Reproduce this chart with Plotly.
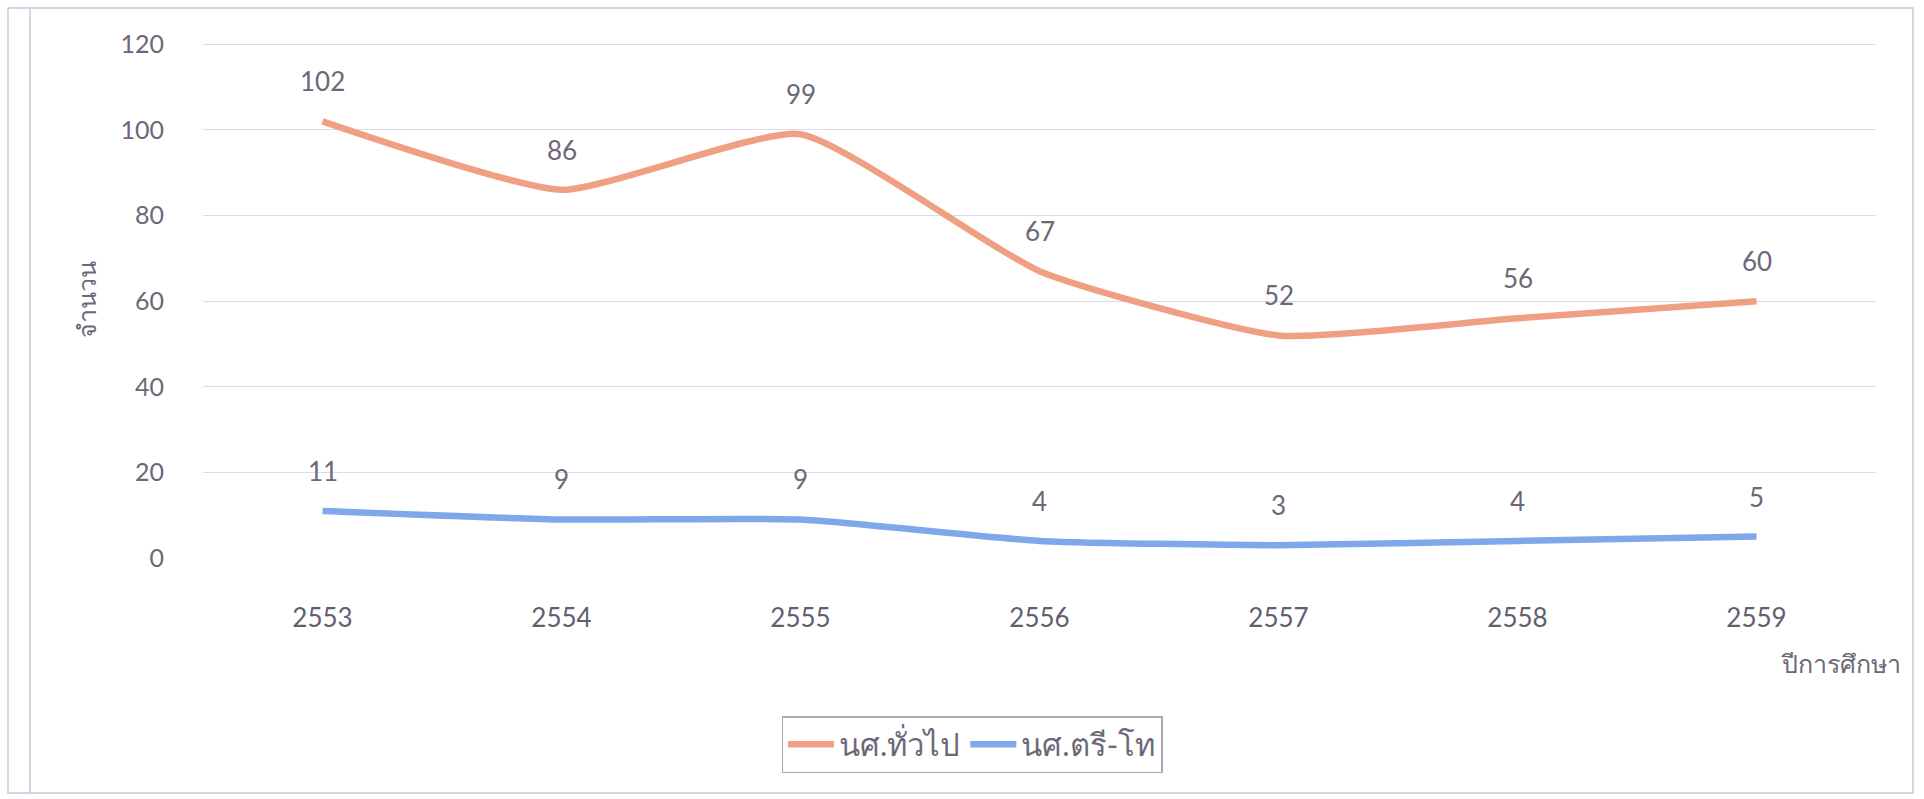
import plotly.graph_objects as go

years = ["2553", "2554", "2555", "2556", "2557", "2558", "2559"]
general = [102, 86, 99, 67, 52, 56, 60]
bachelor_master = [11, 9, 9, 4, 3, 4, 5]
series_names = ["นศ.ทั่วไป", "นศ.ตรี-โท"]
y_ticks = [0, 20, 40, 60, 80, 100, 120]
x_title = "ปีการศึกษา"
y_title = "จำนวน"

TEXT = "#6c6878"
XTEXT = "#625e6e"
GRID = "#dddbe8"
ORANGE = "#EFA083"
BLUE = "#7EA8EA"
FONT = "Lato, 'Noto Sans', sans-serif"

W, H = 1924, 799
Y_MAX = 120.3
L, R, T, B = 203, 48, 43, 241
pw, ph = W - L - R, H - T - B


def px_x(p):
    return (p - L) / pw


def px_y(p):
    return (H - B - p) / ph


fig = go.Figure()
for name, vals, col in [(series_names[0], general, ORANGE), (series_names[1], bachelor_master, BLUE)]:
    fig.add_trace(go.Scatter(
        x=years, y=vals, name=name, mode="lines",
        line=dict(color=col, width=6.5, shape="spline", smoothing=0.5),
        hoverinfo="x+y",
    ))
    for i, yv in enumerate(vals):
        fig.add_annotation(x=i, y=yv, text=str(yv), showarrow=False, yshift=40,
                           font=dict(family=FONT, size=26, color=TEXT))

fig.add_annotation(xref="paper", yref="paper", x=px_x(1903), y=px_y(663), xanchor="right",
                   yanchor="middle", text=x_title, showarrow=False,
                   font=dict(family=FONT, size=25, color=TEXT))
fig.add_annotation(xref="paper", yref="paper", x=px_x(86), y=px_y(300), textangle=-90,
                   xanchor="center", yanchor="middle", text=y_title, showarrow=False,
                   font=dict(family=FONT, size=25, color=TEXT))

border = "#c9c7dd"
fig.add_shape(type="rect", xref="paper", yref="paper", x0=px_x(8), x1=px_x(1913),
              y0=px_y(793), y1=px_y(8), line=dict(color=border, width=1.5), layer="below")
fig.add_shape(type="line", xref="paper", yref="paper", x0=px_x(30), x1=px_x(30),
              y0=px_y(793), y1=px_y(8), line=dict(color=border, width=1.5), layer="below")

fig.update_layout(
    width=W, height=H,
    margin=dict(l=L, r=R, t=T, b=B, autoexpand=False),
    paper_bgcolor="white", plot_bgcolor="white",
    font=dict(family=FONT, color=TEXT, size=24),
    showlegend=True,
    legend=dict(orientation="h", x=px_x(972), y=px_y(716), xanchor="center", yanchor="top",
                bordercolor="#a9a6b8", borderwidth=1.5, bgcolor="white",
                font=dict(family=FONT, size=31, color=TEXT), itemwidth=46,
                tracegroupgap=0),
    xaxis=dict(type="category", range=[-0.5, 6.5], showgrid=False, showline=False,
               zeroline=False, ticks="outside", ticklen=37, tickcolor="rgba(0,0,0,0)",
               tickfont=dict(family=FONT, size=26, color=XTEXT), fixedrange=True),
    yaxis=dict(range=[0, Y_MAX], tickvals=y_ticks, showgrid=True, gridcolor=GRID, gridwidth=1.2,
               zeroline=False, showline=False, ticks="outside", ticklen=33,
               tickcolor="rgba(0,0,0,0)", tickfont=dict(family=FONT, size=25, color=TEXT),
               fixedrange=True),
)

fig.write_html("out.html", config={"displayModeBar": False},
               post_script="document.body.style.margin='0';document.body.style.overflow='hidden';")
